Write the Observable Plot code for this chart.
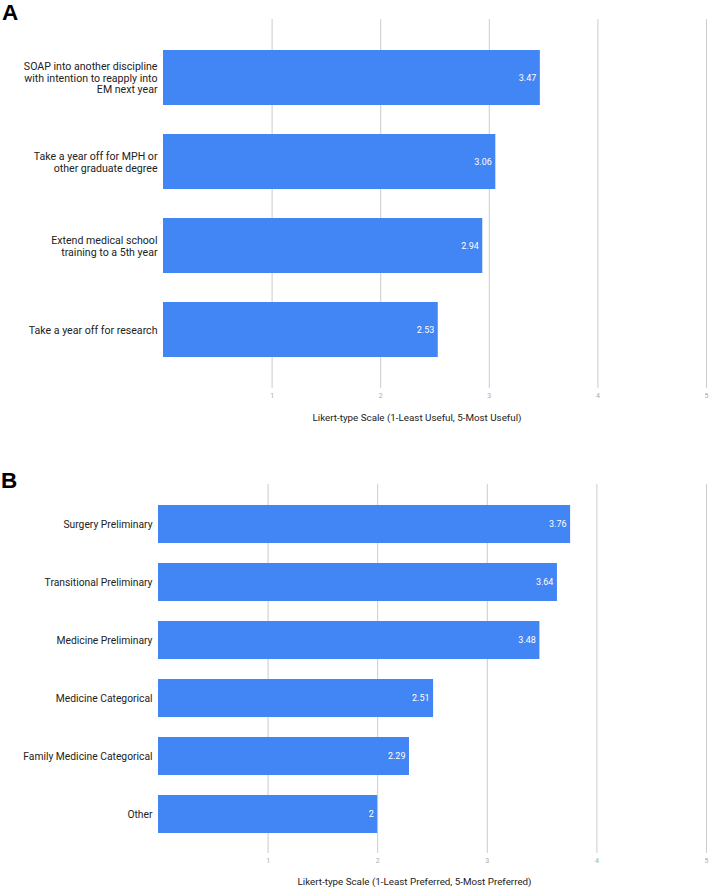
<!DOCTYPE html>
<html>
<head>
<meta charset="utf-8">
<script src="https://cdn.jsdelivr.net/npm/d3@7"></script>
<script src="https://cdn.jsdelivr.net/npm/@observablehq/plot@0.6"></script>
<style>
  html, body { margin: 0; padding: 0; background: #fff; }
  #wrap { position: relative; width: 709px; height: 891px; font-family: Roboto, "Noto Sans", sans-serif; }
  .panel-letter { position: absolute; z-index: 10; font-family: "Liberation Sans", Arial, sans-serif; font-weight: bold; font-size: 22.5px; line-height: 22.5px; color: #000; }
  .panel { position: absolute; left: 0; z-index: 1; }
</style>
</head>
<body>
<div id="wrap">
  <div class="panel" id="pa" style="top:0px;"></div>
  <div class="panel" id="pb" style="top:460px;"></div>
  <div class="panel-letter" style="left:2px;top:2px;">A</div>
  <div class="panel-letter" style="left:1px;top:470px;">B</div>
</div>
<script>
// Panel A data
const catsA = [
  "SOAP into another discipline\nwith intention to reapply into\nEM next year",
  "Take a year off for MPH or\nother graduate degree",
  "Extend medical school\ntraining to a 5th year",
  "Take a year off for research"
];
const valsA = [3.47, 3.06, 2.94, 2.53];
const titleA = "Likert-type Scale (1-Least Useful, 5-Most Useful)";

// Panel B data
const catsB = [
  "Surgery Preliminary",
  "Transitional Preliminary",
  "Medicine Preliminary",
  "Medicine Categorical",
  "Family Medicine Categorical",
  "Other"
];
const valsB = [3.76, 3.64, 3.48, 2.51, 2.29, 2];
const titleB = "Likert-type Scale (1-Least Preferred, 5-Most Preferred)";

const xTicks = [1, 2, 3, 4, 5];

function panel(cats, vals, title, opts) {
  const data = cats.map((c, i) => ({cat: c, value: vals[i]}));
  return Plot.plot({
    width: 709,
    height: opts.height,
    marginTop: opts.marginTop,
    marginBottom: opts.marginBottom,
    marginLeft: opts.marginLeft,
    marginRight: opts.marginRight,
    style: {fontFamily: "Roboto, 'Noto Sans', sans-serif", background: "transparent"},
    x: {domain: [0, 5], ticks: xTicks},
    y: {domain: cats, padding: 0.35, axis: null},
    marks: [
      Plot.ruleX(xTicks, {stroke: "#cccccc", strokeWidth: 1}),
      Plot.barX(data, {x: "value", y: "cat", fill: "#4285f4"}),
      Plot.text(data, {x: "value", y: "cat", text: d => String(d.value), textAnchor: "end", dx: -4, fill: "#ffffff", fontSize: 9}),
      Plot.text(data, {x: () => 0, y: "cat", text: "cat", textAnchor: "end", dx: -6, fill: "#222222", fontSize: opts.labelSize, lineHeight: 1.1}),
      Plot.axisX(xTicks, {tickSize: 0, tickPadding: 4.5, fontSize: 7, color: "#aaaaaa", label: null}),
      Plot.text([title], {frameAnchor: "bottom", dy: opts.titleDy, dx: -18, fill: "#222222", fontSize: 9.8})
    ]
  });
}

document.getElementById("pa").appendChild(panel(catsA, valsA, titleA, {
  height: 440, marginTop: 19, marginBottom: 52, marginLeft: 163, marginRight: 3, titleDy: 32, labelSize: 10.6
}));
document.getElementById("pb").appendChild(panel(catsB, valsB, titleB, {
  height: 431, marginTop: 24, marginBottom: 38, marginLeft: 158, marginRight: 3, titleDy: 31, labelSize: 10.3
}));
</script>
</body>
</html>
